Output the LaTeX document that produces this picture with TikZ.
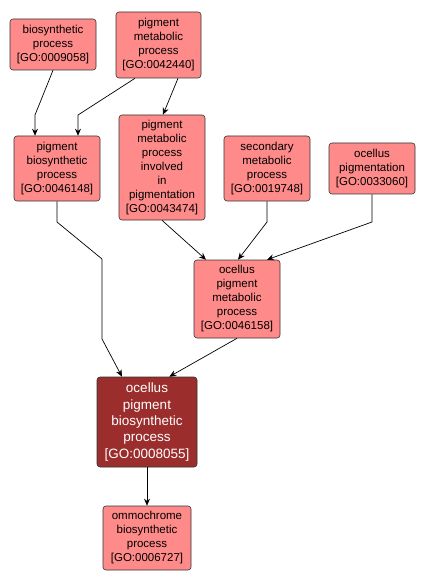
\documentclass[tikz,border=0pt]{standalone}
\usepackage{fontspec}
\setmainfont{Liberation Sans}
\usetikzlibrary{arrows.meta}
\definecolor{gofill}{RGB}{255,138,138}
\definecolor{godark}{RGB}{155,45,45}
\begin{document}
\begin{tikzpicture}[x=1pt,y=-1pt,
  term/.style={draw=black!80,fill=gofill,rounded corners=3pt,align=center,inner sep=1pt,
    font=\fontsize{11.5}{14}\selectfont,line width=0.6pt},
  hit/.style={term,fill=godark,text=white,font=\fontsize{13.5}{16.3}\selectfont},
  edge/.style={draw=black,line width=0.7pt,-{Stealth[length=7pt,width=6pt]}}]
\useasboundingbox (0,0) rectangle (425,585);
\node[term,minimum width=86pt,minimum height=51pt] (A) at (53,44.5) {biosynthetic\\process\\{[GO:0009058]}};
\node[term,minimum width=85pt,minimum height=66pt] (B) at (158.5,45) {pigment\\metabolic\\process\\{[GO:0042440]}};
\node[term,minimum width=86pt,minimum height=65pt] (C) at (57,168.5) {pigment\\biosynthetic\\process\\{[GO:0046148]}};
\node[term,minimum width=86pt,minimum height=105pt] (D) at (162,167.5) {pigment\\metabolic\\process\\involved\\in\\pigmentation\\{[GO:0043474]}};
\node[term,minimum width=86pt,minimum height=65pt] (E) at (267,168.5) {secondary\\metabolic\\process\\{[GO:0019748]}};
\node[term,minimum width=86pt,minimum height=51pt] (F) at (372,168.5) {ocellus\\pigmentation\\{[GO:0033060]}};
\node[term,minimum width=86pt,minimum height=78pt] (G) at (237,299) {ocellus\\pigment\\metabolic\\process\\{[GO:0046158]}};
\node[hit,minimum width=100pt,minimum height=90pt] (H) at (147,422) {ocellus\\pigment\\biosynthetic\\process\\{[GO:0008055]}};
\node[term,minimum width=88pt,minimum height=64pt] (I) at (147,538) {ommochrome\\biosynthetic\\process\\{[GO:0006727]}};
\coordinate (ac) at (35,115);
\coordinate (bc) at (78,115);
\coordinate (ch1) at (57,222);
\coordinate (ch2) at (102,259);
\coordinate (ch3) at (102,339);
\coordinate (eg) at (267,222);
\coordinate (fg) at (372,222);
\draw[edge] (A.south) -- (ac) -- ([xshift=-22pt]C.north);
\draw[edge] ([xshift=-23.5pt]B.south) -- (bc) -- ([xshift=21pt]C.north);
\draw[edge] ([xshift=19.5pt]B.south) -- ([xshift=1pt]D.north);
\draw[edge] (C.south) -- (ch1) -- (ch2) -- (ch3) -- ([xshift=-25pt]H.north);
\draw[edge] (D.south) -- ([xshift=-31pt]G.north);
\draw[edge] (E.south) -- (eg) -- ([xshift=1pt]G.north);
\draw[edge] (F.south) -- (fg) -- ([xshift=30pt]G.north);
\draw[edge] (G.south) -- ([xshift=-28pt]H.north east);
\draw[edge] (H.south) -- (I.north);
\end{tikzpicture}
\end{document}
